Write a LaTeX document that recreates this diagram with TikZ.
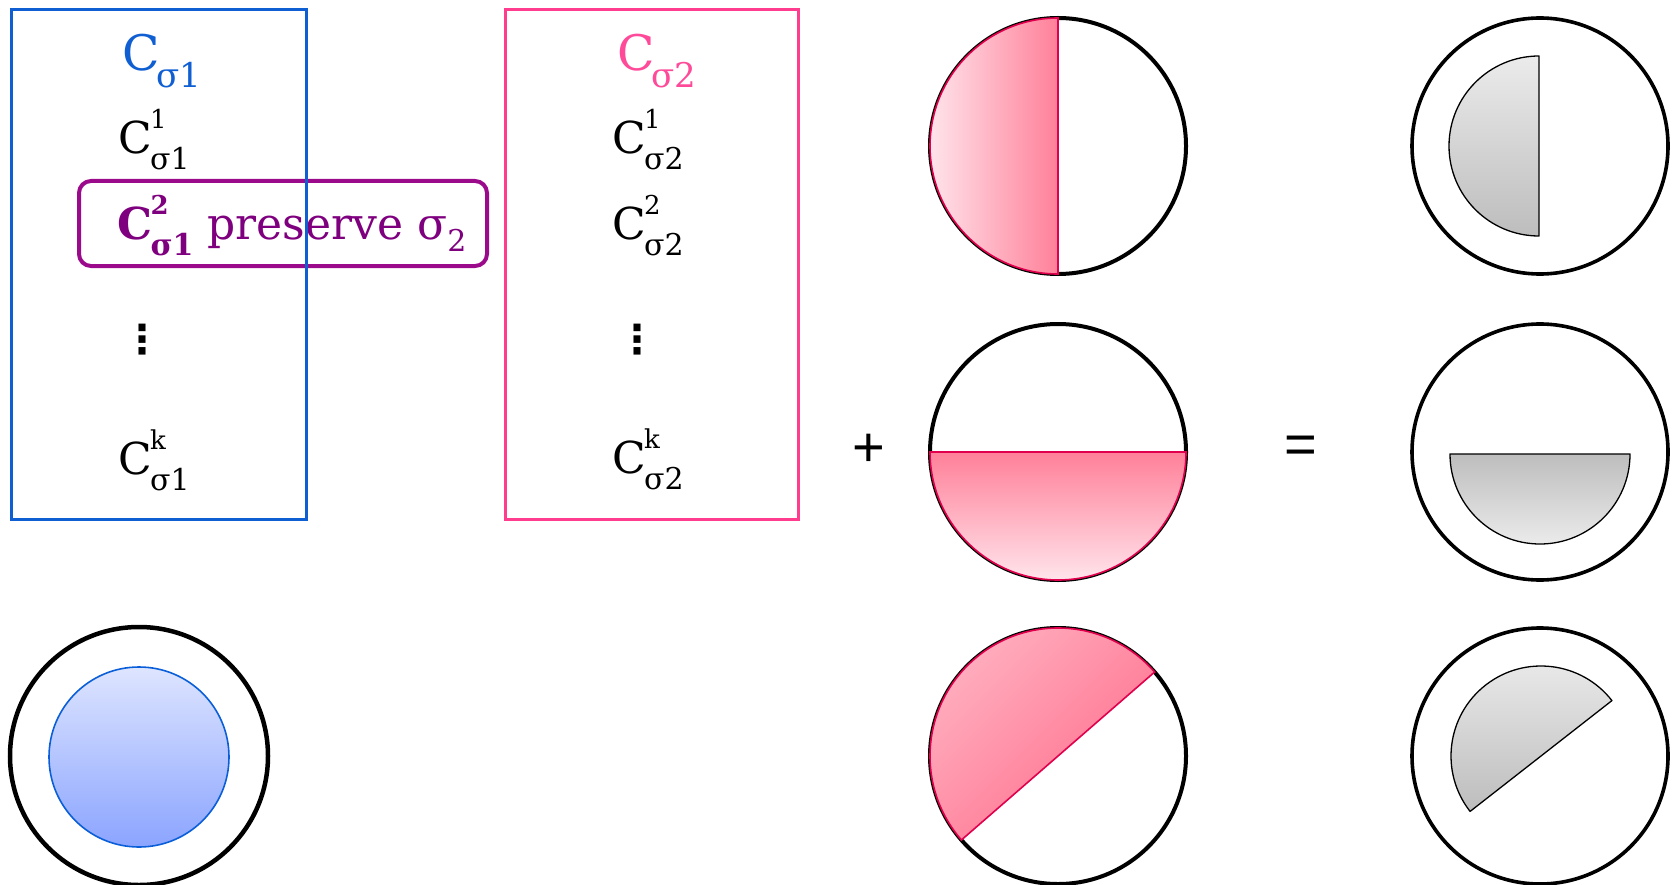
\documentclass[tikz,border=0pt]{standalone}
\usepackage{fontspec}
\setmainfont{DejaVu Serif}
\newfontfamily\opfont{Liberation Sans}
\newfontfamily\dotfont{DejaVu Sans}
\usetikzlibrary{calc}
\definecolor{boxblue}{HTML}{105FD2}
\definecolor{boxpink}{HTML}{FF3C8E}
\definecolor{titlepink}{HTML}{FF4A9A}
\definecolor{boxpurple}{HTML}{9C0A8C}
\definecolor{txtpurple}{HTML}{7F007F}
\definecolor{pinkL}{HTML}{FFE4EB}
\definecolor{pinkM}{HTML}{FFB3C3}
\definecolor{pinkD}{HTML}{FF8099}
\definecolor{pinkX}{HTML}{FF6F8C}
\definecolor{pinkE}{HTML}{E0004D}
\definecolor{grayL}{HTML}{EBEBEB}
\definecolor{grayD}{HTML}{BDBDBD}
\definecolor{blueL}{HTML}{DEE5FF}
\definecolor{blueD}{HTML}{8BA4FF}
\definecolor{blueE}{HTML}{0A5FD8}
% C with superscript #1 and subscript sigma #2
\newcommand\Csg[2]{C\kern-1.5pt\rlap{\raisebox{25pt}{\fontsize{26}{26}\selectfont #1}}\raisebox{-16pt}{\fontsize{30}{30}\selectfont σ#2}}
\newcommand\Ctitle[1]{C\kern-3pt\raisebox{-17pt}{\fontsize{34}{34}\selectfont σ#1}}
\begin{document}
\begin{tikzpicture}[x=1pt,y=-1pt,
  txt/.style={inner sep=0pt, outer sep=0pt, anchor=base west, font=\fontsize{44}{44}\selectfont},
  ttl/.style={inner sep=0pt, outer sep=0pt, anchor=base west, font=\fontsize{49}{49}\selectfont},
  vdot/.style={inner sep=0pt, outer sep=0pt, font=\dotfont\bfseries\fontsize{40}{40}\selectfont},
  op/.style={inner sep=0pt, outer sep=0pt, font=\opfont\fontsize{56}{56}\selectfont},
  ring/.style={draw=black, line width=4pt},
  pinkhalf/.style={draw=pinkE, line width=1.6pt},
  grayhalf/.style={draw=black, line width=1.3pt, line join=round}]
\useasboundingbox (0,0) rectangle (1677,885);

% ---- left column texts
\node[ttl, text=boxblue] (t1) at (122,71) {\Ctitle{1}};
\node[txt] (a1) at (118,154) {\Csg{1}{1}};
\node[txt, text=txtpurple] (a2) at (117,240) {{\bfseries\Csg{2}{1}}\kern14pt preserve σ\raisebox{-12pt}{\fontsize{30}{30}\selectfont 2}};
\node[vdot] (av) at (142,340) {⋮};
\node[txt] (ak) at (118,474) {\Csg{k}{1}};
% purple box
\draw[boxpurple, line width=4pt, rounded corners=12pt] (79,181) rectangle (487,266);
% blue box
\draw[boxblue, line width=3pt] (11,10) rectangle (306,519);

% ---- middle column
\draw[boxpink, line width=3pt] (505,10) rectangle (798,519);
\node[ttl, text=titlepink] (t2) at (617,71) {\Ctitle{2}};
\node[txt] (b1) at (612,154) {\Csg{1}{2}};
\node[txt] (b2) at (612,240) {\Csg{2}{2}};
\node[vdot] (bv) at (637,340) {⋮};
\node[txt] (bk) at (612,473) {\Csg{k}{2}};

% ---- pink circles
\coordinate (m1) at (1058,146);
\coordinate (m2) at (1058,452);
\coordinate (m3) at (1058,756);
\draw[ring] (m1) circle[radius=128];
\shadedraw[pinkhalf, left color=pinkL, right color=pinkD] ([shift={(-90:128)}]m1) arc[start angle=-90, end angle=-270, radius=128] -- cycle;
\draw[ring] (m2) circle[radius=128];
\shadedraw[pinkhalf, top color=pinkD, bottom color=pinkL] ([shift={(180:128)}]m2) arc[start angle=-180, end angle=-360, radius=128] -- cycle;
\draw[ring] (m3) circle[radius=128];
\shadedraw[pinkhalf, top color=pinkM, bottom color=pinkX, shading angle=45] ([shift={(-41:128)}]m3) arc[start angle=-41, end angle=-221, radius=128] -- cycle;

% ---- operators
\node[op] (plus) at (869,450) {+};
\node[op] (eq) at (1301,450) {=};

% ---- gray results
\coordinate (r1) at (1540,146);
\coordinate (r2) at (1540,452);
\coordinate (r3) at (1540,756);
\draw[ring, line width=3.6pt] (r1) circle[radius=128];
\draw[ring, line width=3.6pt] (r2) circle[radius=128];
\draw[ring, line width=3.6pt] (r3) circle[radius=128];
\coordinate (g1) at (1539,146);
\coordinate (g2) at (1540,454);
\coordinate (g3) at (1541,756);
\shadedraw[grayhalf, top color=grayL, bottom color=grayD] ([shift={(-90:90)}]g1) arc[start angle=-90, end angle=-270, radius=90] -- cycle;
\shadedraw[grayhalf, top color=grayD, bottom color=grayL] ([shift={(180:90)}]g2) arc[start angle=-180, end angle=-360, radius=90] -- cycle;
\shadedraw[grayhalf, top color=grayL, bottom color=grayD] ([shift={(-38:90)}]g3) arc[start angle=-38, end angle=-218, radius=90] -- cycle;

% ---- blue circle
\coordinate (c0) at (139,756);
\draw[ring, line width=4.5pt] (c0) circle[radius=129];
\shadedraw[draw=blueE, line width=1.6pt, top color=blueL, bottom color=blueD] (139,757) circle[radius=90];
\end{tikzpicture}
\end{document}
